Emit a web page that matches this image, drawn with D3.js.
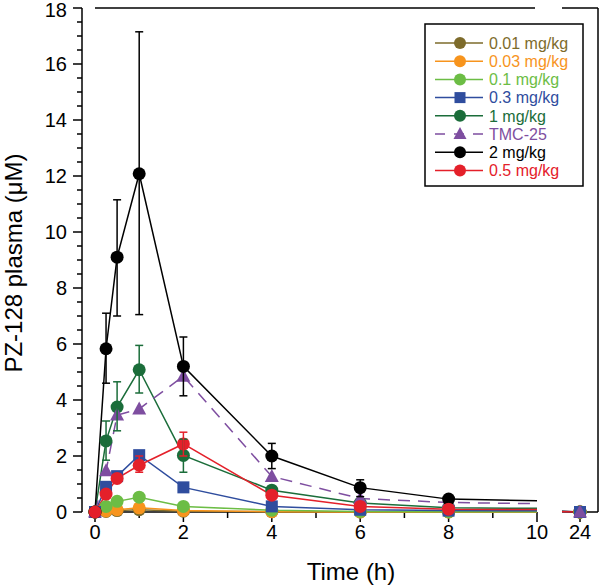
<!DOCTYPE html>
<html><head><meta charset="utf-8">
<script src="https://cdn.jsdelivr.net/npm/d3@7"></script>
<style>body{margin:0;background:#fff}text{font-family:"Liberation Sans",Arial,sans-serif}</style>
</head><body><svg id="c" width="600" height="588"></svg>
<script>
const times = [0, 0.25, 0.5, 1, 2, 4, 6, 8, 24];
const seriesNames = ["0.01 mg/kg","0.03 mg/kg","0.1 mg/kg","0.3 mg/kg","1 mg/kg","TMC-25","2 mg/kg","0.5 mg/kg"];
const colors = ["#7d6b2b","#f7941d","#6cbd45","#2f4d9e","#1b6d3a","#7e4ea0","#000000","#e4202a"];
const symbols = ["circle","circle","circle","square","circle","triangle","circle","circle"];
const dashed = [false,false,false,false,false,true,false,false];
const v001 = [0, 0.02, 0.05, 0.08, 0.03, 0.01, 0, 0, 0];
const v003 = [0, 0.04, 0.08, 0.15, 0.05, 0.01, 0, 0, 0];
const v01  = [0, 0.2, 0.38, 0.53, 0.2, 0.06, 0.02, 0.01, 0];
const v03  = [0, 0.9, 1.28, 2.03, 0.88, 0.2, 0.08, 0.05, 0];
const v1   = [0, 2.54, 3.75, 5.08, 2.02, 0.78, 0.32, 0.15, 0];
const vTMC = [0, 1.47, 3.46, 3.68, 4.85, 1.27, 0.48, 0.34, 0];
const v2   = [0, 5.83, 9.1, 12.08, 5.2, 2.0, 0.87, 0.46, 0];
const v05  = [0, 0.64, 1.2, 1.67, 2.43, 0.6, 0.2, 0.1, 0];
const values = [v001, v003, v01, v03, v1, vTMC, v2, v05];
// error bars: [time, upper, lower]
const err2 = [[0.25,7.1,4.6],[0.5,11.15,7.0],[1,17.15,7.05],[2,6.25,4.15],[4,2.45,1.55],[6,1.15,0.55],[8,0.55,0.37]];
const err1 = [[0.25,3.25,1.85],[0.5,4.65,2.9],[1,5.95,4.25],[2,2.6,1.42]];
const err05 = [[1,2.0,1.42],[2,2.85,2.0]];
const yTicks = [0,2,4,6,8,10,12,14,16,18];
const xTicks1 = [0,2,4,6,8,10];
const xTicks2 = [24];

const svg = d3.select("#c");
const x1 = d3.scaleLinear().domain([0,10]).range([95,537]);
const x2 = d3.scaleLinear().domain([23,25]).range([562,598]);
const y = d3.scaleLinear().domain([0,18]).range([512,8]);
const xs = t => t <= 10 ? x1(t) : x2(t);

const defs = svg.append("defs");
defs.append("clipPath").attr("id","cl1").append("rect").attr("x",0).attr("y",0).attr("width",537).attr("height",588);
defs.append("clipPath").attr("id","cl2").append("rect").attr("x",562).attr("y",0).attr("width",36).attr("height",588);

// axes
const ax = svg.append("g").attr("stroke","#000").attr("stroke-width",1.5).attr("fill","none");
ax.append("line").attr("x1",82).attr("x2",82).attr("y1",y(18)).attr("y2",y(0));
ax.append("line").attr("x1",x1(0)).attr("x2",x1(10)).attr("y1",512).attr("y2",512);
ax.append("line").attr("x1",x2(23)).attr("x2",x2(25)).attr("y1",512).attr("y2",512);
ax.append("line").attr("x1",x1(0)).attr("x2",x1(10)-2).attr("y1",8).attr("y2",8);
ax.append("line").attr("x1",x2(23)).attr("x2",x2(25)).attr("y1",8).attr("y2",8);
ax.append("line").attr("x1",x2(25)).attr("x2",x2(25)).attr("y1",8).attr("y2",512);

// y ticks
const yMinor = d3.range(0,18.01,0.5);
ax.selectAll(".ym").data(yMinor).join("line")
  .attr("x1",d=>d%2===0?73:77).attr("x2",82).attr("y1",d=>y(d)).attr("y2",d=>y(d));
svg.append("g").selectAll("text").data(yTicks).join("text")
  .attr("x",67).attr("y",d=>Math.max(y(d),9.5)).attr("dy","0.36em").attr("text-anchor","end")
  .attr("font-size",20).text(d=>d);

// x ticks
const xMinor = d3.range(0,10.01,1);
ax.selectAll(".xm").data(xMinor).join("line")
  .attr("x1",d=>x1(d)).attr("x2",d=>x1(d)).attr("y1",512).attr("y2",d=>d%2===0?522:518);
ax.selectAll(".x2").data(xTicks2).join("line")
  .attr("x1",d=>x2(d)).attr("x2",d=>x2(d)).attr("y1",512).attr("y2",522);
svg.append("g").selectAll("text").data(xTicks1.map(d=>[d,x1(d)]).concat(xTicks2.map(d=>[d,x2(d)]))).join("text")
  .attr("x",d=>d[1]).attr("y",539).attr("text-anchor","middle").attr("font-size",20).text(d=>d[0]);

// titles
svg.append("text").attr("x",351).attr("y",580).attr("text-anchor","middle").attr("font-size",24).text("Time (h)");
svg.append("text").attr("transform","translate(22,263) rotate(-90)").attr("text-anchor","middle").attr("font-size",24).text("PZ-128 plasma (μM)");

function drawSymbol(g, sym, cx, cy, color, s) {
  if (sym === "circle") g.append("circle").attr("cx",cx).attr("cy",cy).attr("r",s).attr("fill",color);
  else if (sym === "square") g.append("rect").attr("x",cx-s).attr("y",cy-s).attr("width",2*s).attr("height",2*s).attr("fill",color);
  else g.append("path").attr("d",`M${cx},${cy-s-1}L${cx+s+0.5},${cy+s-1}L${cx-s-0.5},${cy+s-1}Z`).attr("fill",color);
}

// error bars
function drawErr(data, color) {
  const g = svg.append("g").attr("stroke",color).attr("stroke-width",1.5);
  data.forEach(([t,u,l]) => {
    g.append("line").attr("x1",xs(t)).attr("x2",xs(t)).attr("y1",y(u)).attr("y2",y(l));
    [u,l].forEach(v => g.append("line").attr("x1",xs(t)-4).attr("x2",xs(t)+4).attr("y1",y(v)).attr("y2",y(v)));
  });
}

const plot = svg.append("g");
const lineGen1 = d3.line().x((d,i)=>x1(times[i])).y(d=>y(d));
const lineGen2 = d3.line().x((d,i)=>x2(times[i])).y(d=>y(d));
const order = [0,1,2,3,4,5,6,7];
order.forEach(k => {
  const c = colors[k];
  plot.append("path").datum(values[k]).attr("d",lineGen1).attr("fill","none").attr("stroke",c)
    .attr("stroke-width",1.5).attr("clip-path","url(#cl1)").attr("stroke-dasharray",dashed[k]?"12,8":null);
  plot.append("path").datum(values[k]).attr("d",lineGen2).attr("fill","none").attr("stroke",c)
    .attr("stroke-width",1.5).attr("clip-path","url(#cl2)").attr("stroke-dasharray",dashed[k]?"12,8":null);
});
drawErr(err1, colors[4]);
drawErr(err2, colors[6]);
drawErr(err05, colors[7]);
const sz = k => symbols[k]==="square"?6:6.5;
order.forEach(k => {
  const g = plot.append("g");
  values[k].forEach((v,i) => { if (times[i] <= 10) drawSymbol(g, symbols[k], xs(times[i]), y(v), colors[k], sz(k)); });
});
// markers at 24 h (drawn in the stacking seen in the reference)
const order24 = [7,6,4,0,1,2,3,5];
order24.forEach(k => {
  const g = plot.append("g");
  values[k].forEach((v,i) => { if (times[i] > 10) drawSymbol(g, symbols[k], xs(times[i]), y(v), colors[k], sz(k)); });
});

// legend
const lg = svg.append("g");
lg.append("rect").attr("x",425).attr("y",24).attr("width",158).attr("height",162).attr("fill","#fff").attr("stroke","#000").attr("stroke-width",1.5);
seriesNames.forEach((n,i) => {
  const yy = 43 + i*18.2;
  lg.append("line").attr("x1",435).attr("x2",483).attr("y1",yy).attr("y2",yy).attr("stroke",colors[i]).attr("stroke-width",1.5)
    .attr("stroke-dasharray",dashed[i]?"10,9":null);
  drawSymbol(lg, symbols[i], 460, yy, colors[i], symbols[i]==="square"?5.5:6);
  lg.append("text").attr("x",489).attr("y",yy).attr("dy","0.36em").attr("font-size",16).attr("fill",colors[i]).text(n);
});
</script></body></html>
